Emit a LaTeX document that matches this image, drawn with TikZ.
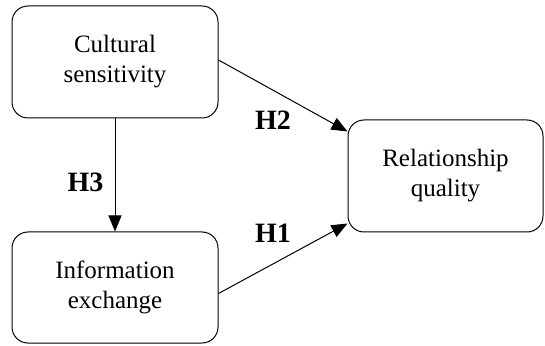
\documentclass[tikz,border=0pt]{standalone}
\usepackage{fontspec}
\setmainfont{Liberation Serif}
\usetikzlibrary{arrows.meta}
\tikzset{
  varbox/.style={draw, line width=1pt, rounded corners=16pt, align=center,
    font=\fontsize{25}{30}\selectfont, inner sep=0pt},
  hyp/.style={font=\fontsize{28}{32}\selectfont\bfseries},
  link/.style={line width=1pt, -{Triangle[length=16pt,width=13pt]}}
}
\begin{document}
\begin{tikzpicture}[x=1pt,y=1pt]
\useasboundingbox (0,0) rectangle (545,345);
\node[varbox, minimum width=206pt, minimum height=112pt] (cs) at (115,283) {Cultural\\sensitivity};
\node[varbox, minimum width=206pt, minimum height=111pt] (ie) at (115,57.5) {Information\\exchange};
\node[varbox, minimum width=195pt, minimum height=112pt] (rq) at (445.5,169) {Relationship\\quality};
\draw[link] (cs.south) -- (ie.north);
\draw[link] ([yshift=2pt]cs.east) -- ([yshift=-12pt]rq.north west);
\draw[link] ([yshift=-6pt]ie.east) -- ([yshift=9pt]rq.south west);
\node[hyp] (h2) at (273,225) {H2};
\node[hyp] (h1) at (273,112) {H1};
\node[hyp] (h3) at (85.5,162.5) {H3};
\end{tikzpicture}
\end{document}
